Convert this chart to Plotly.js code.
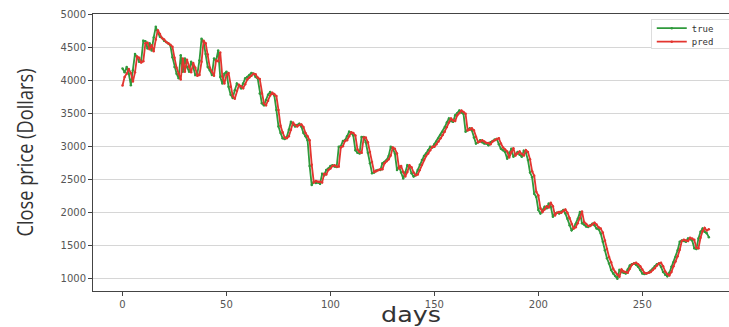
<!DOCTYPE html>
<html>
<head>
<meta charset="utf-8">
<script src="https://cdn.plot.ly/plotly-3.0.1.min.js"></script>
<style>
  html, body { margin: 0; padding: 0; background: #ffffff; }
  #chart { width: 729px; height: 327px; }
</style>
</head>
<body>
<div id="chart"></div>
<script>
// Daily closing price (true) and the model's one-step prediction (pred)
const trueClose = [
  4180, 4120, 4200, 4100, 3925, 4150, 4400, 4350, 4280, 4300,
  4600, 4590, 4480, 4560, 4450, 4650, 4810, 4720, 4660, 4640,
  4600, 4580, 4560, 4530, 4350, 4200, 4100, 4030, 4380, 4130,
  4330, 4200, 4130, 4280, 4200, 4080, 4100, 4300, 4630, 4580,
  4400, 4200, 4150, 4080, 4330, 4300, 4450, 4050, 3950, 4100,
  4130, 3900, 3780, 3730, 3850, 3950, 3920, 3880, 3950, 4030,
  4050, 4080, 4110, 4100, 4050, 4030, 3800, 3650, 3620, 3700,
  3780, 3820, 3800, 3770, 3550, 3300, 3200, 3120, 3110, 3140,
  3250, 3370, 3330, 3300, 3320, 3340, 3300, 3200, 3150, 3090,
  2700, 2410, 2460, 2440, 2450, 2430, 2580, 2560, 2640, 2660,
  2700, 2710, 2690, 2685, 2990, 3000, 3080, 3090, 3150, 3220,
  3200, 3160, 2940, 2900, 2890, 3140, 3140, 3060, 2900, 2740,
  2590, 2600, 2630, 2640, 2640, 2740, 2760, 2790, 2850, 2990,
  2960, 2890, 2640, 2690, 2600, 2510, 2600, 2710, 2680, 2590,
  2540, 2560, 2640, 2720, 2790, 2850, 2890, 2940, 2990, 2980,
  3030, 3070, 3120, 3170, 3220, 3290, 3360, 3420, 3380, 3370,
  3470, 3500, 3540, 3510, 3490, 3220, 3240, 3270, 3240, 3130,
  3040, 3060, 3090, 3060, 3040, 3040, 3015, 3060, 3080, 3100,
  3110, 3030, 2960, 2940, 2910, 2810, 2900, 2960, 2840, 2880,
  2910, 2870, 2840, 2930, 2900, 2790, 2600, 2530, 2280, 2230,
  2030, 1980, 2030, 2080, 2060, 2130, 2080, 1930, 1980, 1990,
  1980, 2010, 2030, 1980, 1900, 1800, 1725, 1760, 1820, 1900,
  2000, 1830, 1810, 1780, 1775, 1800, 1825, 1800, 1750, 1740,
  1675, 1550, 1420, 1300, 1220, 1120, 1070, 1030, 990, 1120,
  1090, 1080, 1070, 1130, 1190, 1210, 1220, 1200, 1170, 1120,
  1070, 1060, 1070, 1080, 1110, 1140, 1180, 1210, 1220, 1170,
  1090, 1050, 1025, 1080, 1170, 1240, 1320, 1420, 1550, 1570,
  1560, 1550, 1600, 1590, 1570, 1450, 1440, 1600, 1700, 1750,
  1700, 1680, 1620
];

const predClose = [
  3920, 4050, 4100, 4170, 4110, 3980, 4120, 4360, 4340, 4270,
  4290, 4560, 4570, 4470, 4530, 4440, 4620, 4760, 4700, 4640,
  4620, 4580, 4560, 4540, 4510, 4340, 4190, 4100, 4010, 4330,
  4130, 4310, 4200, 4120, 4260, 4190, 4070, 4080, 4280, 4600,
  4560, 4390, 4190, 4130, 4070, 4300, 4290, 4420, 4060, 3950,
  4080, 4110, 3900, 3760, 3720, 3840, 3930, 3910, 3880, 3940,
  4010, 4040, 4070, 4100, 4090, 4040, 4020, 3800, 3650, 3620,
  3690, 3770, 3810, 3790, 3760, 3550, 3310, 3210, 3130, 3120,
  3150, 3250, 3360, 3320, 3300, 3320, 3330, 3290, 3200, 3150,
  3090, 2720, 2450, 2470, 2460, 2460, 2450, 2580, 2570, 2640,
  2660, 2700, 2710, 2690, 2690, 2980, 3000, 3080, 3090, 3150,
  3210, 3200, 3160, 2950, 2910, 2900, 3130, 3130, 3060, 2910,
  2760, 2610, 2620, 2640, 2650, 2650, 2740, 2770, 2800, 2860,
  2980, 2960, 2890, 2660, 2700, 2610, 2540, 2610, 2710, 2680,
  2600, 2560, 2570, 2640, 2720, 2790, 2850, 2890, 2940, 2990,
  2990, 3030, 3070, 3120, 3170, 3220, 3290, 3360, 3420, 3390,
  3380, 3470, 3500, 3540, 3520, 3490, 3240, 3250, 3270, 3240,
  3140, 3060, 3070, 3090, 3070, 3050, 3050, 3030, 3070, 3090,
  3110, 3120, 3040, 2980, 2950, 2920, 2830, 2910, 2970, 2860,
  2890, 2920, 2880, 2860, 2940, 2910, 2800, 2620, 2550, 2310,
  2250, 2060, 2000, 2040, 2090, 2070, 2140, 2090, 1950, 1990,
  2000, 1990, 2020, 2040, 1990, 1910, 1820, 1750, 1770, 1830,
  1910, 2010, 1850, 1820, 1790, 1790, 1810, 1840, 1810, 1770,
  1750, 1690, 1570, 1440, 1320, 1240, 1140, 1090, 1050, 1020,
  1130, 1100, 1090, 1080, 1140, 1200, 1220, 1230, 1210, 1180,
  1130, 1080, 1070, 1080, 1090, 1120, 1150, 1190, 1220, 1230,
  1180, 1100, 1060, 1040, 1090, 1180, 1250, 1330, 1430, 1560,
  1580, 1570, 1560, 1610, 1600, 1580, 1460, 1450, 1610, 1710,
  1760, 1720, 1740
];

const days = trueClose.map((_, i) => i);
const yTicks = [1000, 1500, 2000, 2500, 3000, 3500, 4000, 4500, 5000];
const xTicks = [0, 50, 100, 150, 200, 250];

const traces = [
  {
    x: days, y: trueClose, name: 'true', type: 'scatter', mode: 'lines+markers',
    line: { color: '#2f9a3c', width: 1.8 },
    marker: { color: '#2f9a3c', size: 2.5 }
  },
  {
    x: days, y: predClose, name: 'pred', type: 'scatter', mode: 'lines+markers',
    line: { color: '#e3352f', width: 1.8 },
    marker: { color: '#e3352f', size: 2.5 }
  }
];

const tickFont = { family: 'DejaVu Sans, Verdana, sans-serif', size: 10, color: '#555555' };

const layout = {
  width: 729, height: 327,
  margin: { l: 93, r: 0, t: 14, b: 36, autoexpand: false },
  paper_bgcolor: '#ffffff', plot_bgcolor: '#ffffff',
  showlegend: true,
  legend: {
    x: 0.877, xanchor: 'left', y: 0.983, yanchor: 'top',
    bgcolor: '#ffffff', bordercolor: '#dddddd', borderwidth: 1,
    font: { family: 'DejaVu Sans Mono, Liberation Mono, monospace', size: 9, color: '#333333' },
    itemwidth: 30, tracegroupgap: 0
  },
  xaxis: {
    range: [-14.2, 291.7],
    tickvals: xTicks, ticktext: xTicks.map(String),
    ticks: 'outside', ticklen: 4, tickcolor: '#444444',
    showgrid: false, zeroline: false,
    showline: true, linecolor: '#444444', linewidth: 1, mirror: true,
    tickfont: tickFont,
    title: { text: 'days', font: { family: 'DejaVu Sans, Verdana, sans-serif', size: 21, color: '#333333' }, standoff: 1 }
  },
  yaxis: {
    range: [803, 5005],
    tickvals: yTicks, ticktext: yTicks.map(String),
    ticks: 'outside', ticklen: 4, tickcolor: '#444444',
    showgrid: true, gridcolor: '#d6d6d6', gridwidth: 1,
    zeroline: false,
    showline: true, linecolor: '#444444', linewidth: 1,
    tickfont: tickFont,
    title: { text: 'Close price (Dollars)', font: { family: 'Open Sans, sans-serif', size: 22, color: '#333333' }, standoff: 20 }
  }
};

function parseTranslate(el) {
  const m = /translate\(\s*([-\d.]+)[ ,]+([-\d.]+)\s*\)/.exec(el.getAttribute('transform') || '');
  return m ? [parseFloat(m[1]), parseFloat(m[2])] : [0, 0];
}

Plotly.newPlot('chart', traces, layout, { staticPlot: true, displayModeBar: false }).then(() => {
  // Narrow the axis titles to their drawn widths
  const yt = document.querySelector('.g-ytitle text');
  if (yt) { yt.setAttribute('textLength', '168'); yt.setAttribute('lengthAdjust', 'spacingAndGlyphs'); }
  const xt = document.querySelector('.g-xtitle text');
  if (xt) { xt.setAttribute('textLength', '60'); xt.setAttribute('lengthAdjust', 'spacingAndGlyphs'); }

  // Compact legend: tighter row spacing, box running past the right edge
  const leg = document.querySelector('.legend');
  if (leg) {
    const items = leg.querySelectorAll('.traces');
    if (items.length === 2) {
      const [x0, y0] = parseTranslate(items[0]);
      const top = y0 - 6;
      items[0].setAttribute('transform', `translate(${x0},${top})`);
      items[1].setAttribute('transform', `translate(${x0},${top + 13.5})`);
    }
    const bg = leg.querySelector('rect.bg');
    if (bg) { bg.setAttribute('height', '29'); bg.setAttribute('width', '95'); }
  }
});
</script>
</body>
</html>
